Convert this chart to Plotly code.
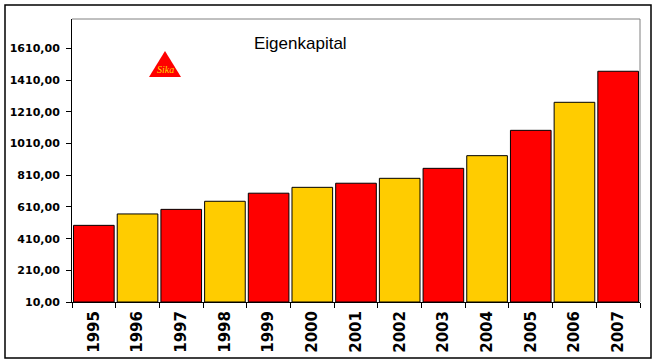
import plotly.graph_objects as go

years = ["1995", "1996", "1997", "1998", "1999", "2000", "2001",
         "2002", "2003", "2004", "2005", "2006", "2007"]
eigenkapital = [494, 566, 595, 646, 697, 734, 760, 791, 854, 934, 1094, 1271, 1467]
tick_vals = [10, 210, 410, 610, 810, 1010, 1210, 1410, 1610]
tick_text = ["10,00", "210,00", "410,00", "610,00", "810,00",
             "1010,00", "1210,00", "1410,00", "1610,00"]

AXIS_MIN = 10
RED = "#FF0000"
YELLOW = "#FFCC00"
colors = [RED if i % 2 == 0 else YELLOW for i in range(len(years))]

fig = go.Figure(go.Bar(
    x=years, y=[v - AXIS_MIN for v in eigenkapital], base=AXIS_MIN,
    marker=dict(color=colors, line=dict(color="black", width=1)),
    hovertext=[str(v) for v in eigenkapital],
))

L, R, T, B = 72, 16, 19, 60
W, H = 656, 362
pw, ph = W - L - R, H - T - B

def px(x):
    return (x - L) / pw

def py(y):
    return (H - B - y) / ph

fig.update_layout(
    width=W, height=H,
    margin=dict(l=L, r=R, t=T, b=B, autoexpand=False),
    paper_bgcolor="white", plot_bgcolor="white",
    bargap=0.07,
    showlegend=False,
    xaxis=dict(
        type="category", showline=True, linecolor="black", linewidth=1,
        ticks="outside", ticklen=5, tickcolor="black", tickson="boundaries",
        tickangle=-90, showgrid=False, ticklabelstandoff=2, automargin=False,
        tickfont=dict(family="DejaVu Sans", size=15, color="black", weight="bold"),
    ),
    yaxis=dict(
        range=[AXIS_MIN, 1797], showline=True, linecolor="black", linewidth=1,
        ticks="outside", ticklen=5, tickcolor="black", ticklabelstandoff=4,
        tickvals=tick_vals, ticktext=tick_text, showgrid=False, zeroline=False,
        automargin=False,
        tickfont=dict(family="DejaVu Sans", size=11, color="black", weight="bold"),
    ),
    shapes=[
        dict(type="rect", xref="paper", yref="paper",
             x0=px(5), x1=px(651), y0=py(358), y1=py(5),
             line=dict(color="black", width=1.5), fillcolor="rgba(0,0,0,0)", layer="below"),
        dict(type="line", xref="paper", yref="paper", x0=0, x1=1, y0=1, y1=1,
             line=dict(color="#808080", width=1)),
        dict(type="line", xref="paper", yref="paper", x0=1, x1=1, y0=0, y1=1,
             line=dict(color="#808080", width=1)),
        dict(type="path", xref="paper", yref="paper",
             path=f"M {px(165)} {py(51)} L {px(181)} {py(77)} L {px(149)} {py(77)} Z",
             fillcolor="#FF0000", line=dict(color="#FF0000", width=0)),
    ],
    annotations=[
        dict(text="Eigenkapital", xref="paper", yref="paper",
             x=px(300), y=py(44), xanchor="center", yanchor="middle", showarrow=False,
             font=dict(family="Liberation Sans, Arial", size=17, color="black")),
        dict(text="<i>Sika</i>", xref="paper", yref="paper",
             x=px(165.5), y=py(69), xanchor="center", yanchor="middle", showarrow=False,
             font=dict(family="Liberation Serif", size=10, color="#FFD700")),
    ],
)

fig.write_html("out.html", config={"displayModeBar": False},
               post_script="document.body.style.margin='0px';")
